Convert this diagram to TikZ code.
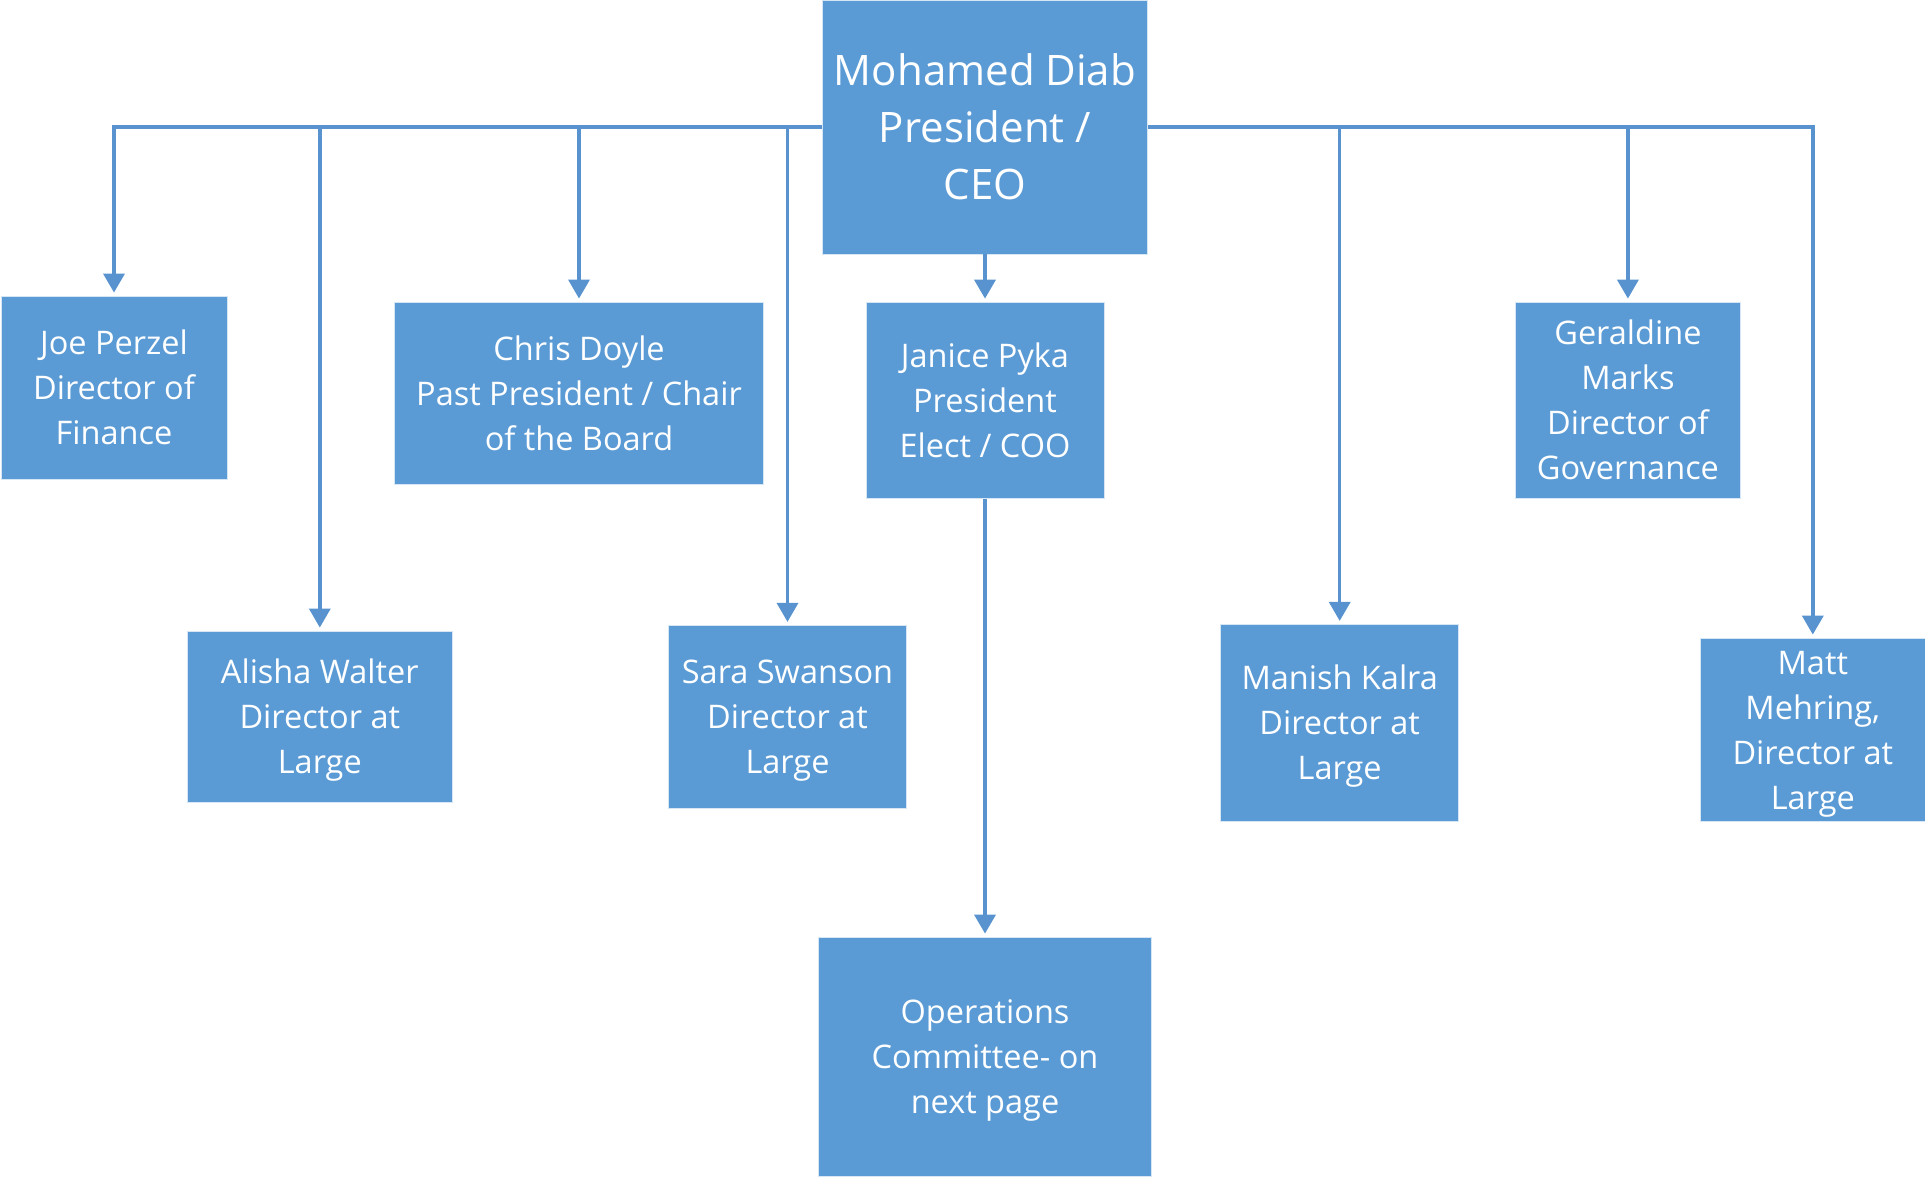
\documentclass[tikz,border=0pt]{standalone}
\usepackage{fontspec}
\setmainfont{Open Sans}
\usetikzlibrary{arrows.meta}
\definecolor{boxblue}{HTML}{5B9BD5}
\definecolor{lineblue}{HTML}{5893CF}
\newcommand{\lowtxt}[2]{\parbox{#1}{\vspace*{7pt}\centering #2}}
\newcommand{\lowertxt}[2]{\parbox{#1}{\vspace*{9pt}\centering #2}}
\tikzset{
  orgbox/.style={rectangle, fill=boxblue, draw=white!75!boxblue, line width=0.8pt, text=white, align=center, inner sep=0pt, font=\fontsize{32.5}{45}\selectfont},
  conn/.style={draw=lineblue, line width=3.5pt, -{Triangle[length=19pt,width=21pt]}, shorten >=3pt}
}
\begin{document}
\begin{tikzpicture}[x=1pt,y=-1pt]
\useasboundingbox (0,0) rectangle (1925,1176);
\node[orgbox, minimum width=324.6pt, minimum height=254pt, font=\fontsize{42}{57}\selectfont] (top) at (985,127) {Mohamed Diab\\President /\\CEO};
\node[orgbox, minimum width=226pt, minimum height=183pt] (joe) at (114,387.5) {Joe Perzel\\Director of\\Finance};
\node[orgbox, minimum width=368.6pt, minimum height=182.7pt] (chris) at (579,393.3) {Chris Doyle\\Past President / Chair\\of the Board};
\node[orgbox, minimum width=238pt, minimum height=196.3pt] (janice) at (985,400.2) {Janice Pyka\\President\\Elect / COO};
\node[orgbox, minimum width=225.7pt, minimum height=196pt] (geraldine) at (1627.9,400) {Geraldine\\Marks\\Director of\\Governance};
\node[orgbox, minimum width=265pt, minimum height=171.7pt] (alisha) at (319.8,716.8) {\lowtxt{265pt}{Alisha Walter\\Director at\\Large}};
\node[orgbox, minimum width=238.4pt, minimum height=183pt] (sara) at (787.5,716.8) {\lowtxt{238pt}{Sara Swanson\\Director at\\Large}};
\node[orgbox, minimum width=238pt, minimum height=197.4pt] (manish) at (1339.7,723) {\lowtxt{238pt}{Manish Kalra\\Director at\\Large}};
\node[orgbox, minimum width=224.3pt, minimum height=183pt] (matt) at (1812.8,729.5) {\lowertxt{224pt}{Matt\\Mehring,\\Director at\\Large}};
\node[orgbox, minimum width=333.7pt, minimum height=239pt] (ops) at (985,1056.5) {\lowtxt{333pt}{Operations\\Committee- on\\next page}};
% connectors
\draw[conn] (top.west) -| (joe.north);
\draw[conn] (alisha.north |- top.west) -- (alisha.north);
\draw[conn] (chris.north |- top.west) -- (chris.north);
\draw[conn] (sara.north |- top.west) -- (sara.north);
\draw[conn] (top.east) -| (matt.north);
\draw[conn] (manish.north |- top.east) -- (manish.north);
\draw[conn] (geraldine.north |- top.east) -- (geraldine.north);
\draw[conn] (top.south) -- (janice.north);
\draw[conn] (janice.south) -- (ops.north);
\end{tikzpicture}
\end{document}
